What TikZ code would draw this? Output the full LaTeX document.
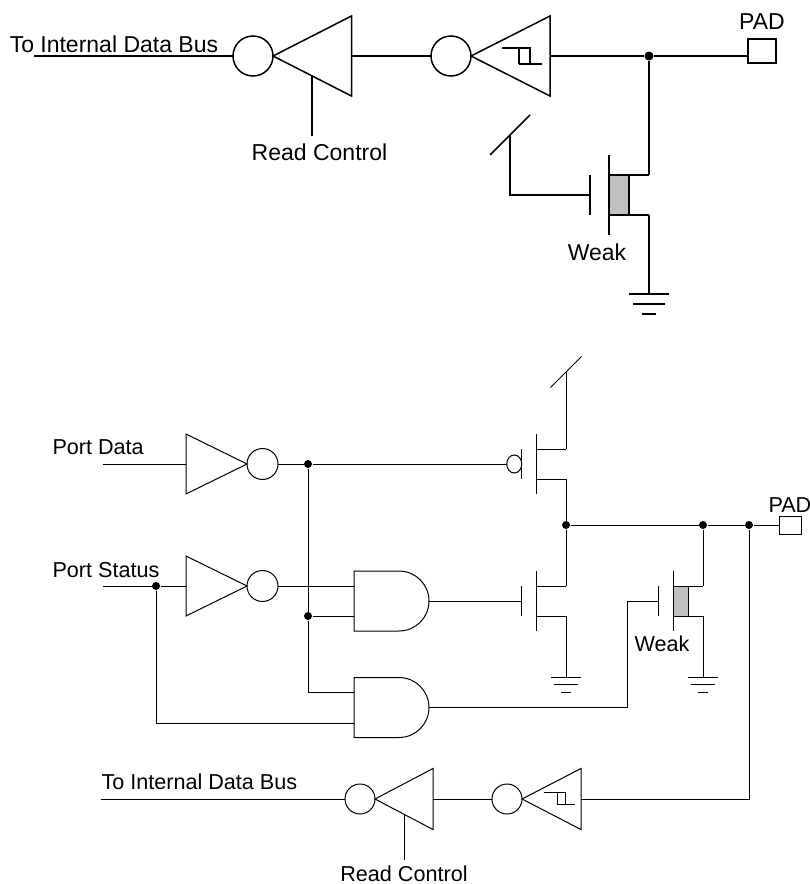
\documentclass[tikz,border=0pt]{standalone}
\usepackage{fontspec}
\setmainfont{Liberation Sans}
\usepackage{tikz}
\usetikzlibrary{positioning, shapes.geometric, shapes.gates.logic.US}

\definecolor{changray}{HTML}{C0C0C0}
\tikzset{
    buf/.style={draw, isosceles triangle, isosceles triangle stretches, inner sep=0, outer sep=0},
    bub/.style={draw, circle, inner sep=0, outer sep=0},
    dot/.style={circle, fill=black, inner sep=0, minimum size=8},
    pad/.style={draw, rectangle, inner sep=0, outer sep=0},
    chan/.style={draw, rectangle, fill=changray, inner sep=0, outer sep=0, anchor=west},
    andgate/.style={draw, and gate US, logic gate inputs=nn, logic gate input sep=20, inner sep=0, outer sep=0},
    txta/.style={inner sep=0, anchor=base, font=\fontsize{23}{24}\selectfont},
    txtb/.style={inner sep=0, anchor=base, font=\fontsize{21.6}{24}\selectfont},
    fet/.pic={
        \draw (0,-40) -- (0,40);
        \draw (-19,-20) -- (-19,20);
        \draw (0,-20) -- (40,-20) coordinate (-d);
        \draw (0,20) -- (40,20) coordinate (-s);
        \coordinate (-g) at (-19,0);
    },
    gnd/.pic={
        \draw (-20,0) -- (20,0);
        \draw (-16,10) -- (16,10);
        \draw (-7,20) -- (7,20);
    },
    hyst/.pic={
        \draw (-17,-8) -- (11,-8) -- (11,8);
        \draw (0,-8) -- (0,8);
        \draw (0,8) -- (23,8);
    }
}

\begin{document}
\begin{tikzpicture}[x=1pt, y=-1pt]
    \useasboundingbox (0,0) rectangle (810,884);

    % Upper circuit
    \begin{scope}[line width=1.5pt]
        % Nodes
        \node (triA) [buf, shape border rotate=180, minimum width=80, minimum height=78.5, anchor=apex] at (273,56) {};
        \node (bubA) [bub, minimum size=40, left=0pt of triA.apex] {};
        \node (triB) [buf, shape border rotate=180, minimum width=80, minimum height=79, anchor=apex] at (471,56) {};
        \node (bubB) [bub, minimum size=40, left=0pt of triB.apex] {};
        \node (padA) [pad, minimum width=28, minimum height=24] at (762,51) {};
        \node (dotA) [dot, minimum size=9] at (649,56) {};
        \node (chanA) [chan, minimum width=20, minimum height=40] at (609,195) {};
        \pic (qA) at (609,195) {fet};
        \pic at (519,56) {hyst};
        \pic (gA) at (649,294) {gnd};
        \coordinate (busA) at (34,56);
        \coordinate (rcTopA) at (312,76);
        \coordinate (rcA) at (312,136);
        \coordinate (vddA) at (510,135);
        \coordinate (gndA) at (649,294);
        \node [txta, anchor=base west] at (9,52) {To Internal Data Bus};
        \node [txta] at (319.5,160) {Read Control};
        \node [txta] at (597,260) {Weak};
        \node [txta] at (762,29) {PAD};

        % Wires
        \draw (busA) -- (bubA);
        \draw (rcTopA) -- (rcA);
        \draw (triA.lower side) -- (bubB);
        \draw (triB.lower side) -- (dotA) -- (dotA -| padA.west);
        \draw (dotA) -- (qA-d);
        \draw (qA-s) -- (gndA);
        \draw (qA-g) -- (qA-g -| vddA) -- (vddA);
        \draw (vddA) ++(-20,20) -- ++(40,-40);
    \end{scope}

    % Lower circuit
    \begin{scope}[line width=1pt]
        % Nodes
        \node (triC) [buf, minimum width=60, minimum height=61, anchor=apex] at (247,464) {};
        \node (bubC) [bub, minimum size=31, right=0pt of triC.apex] {};
        \node (triD) [buf, minimum width=60, minimum height=61, anchor=apex] at (247,586) {};
        \node (bubD) [bub, minimum size=31, right=0pt of triD.apex] {};
        \node (andA) [andgate, anchor=output] at (429,601) {};
        \node (andB) [andgate, anchor=output] at (429,707.5) {};
        \pic (qC) [scale=.75] at (536,464) {fet};
        \pic (qD) [scale=.75] at (536,601) {fet};
        \node (chanB) [chan, minimum width=15, minimum height=30] at (673,601) {};
        \pic (qE) [scale=.75] at (673,601) {fet};
        \node (pbub) [draw, ellipse, inner sep=0, outer sep=0, minimum width=15, minimum height=18, left=0pt of qC-g] {};
        \node (dotB) [dot] at (308,464) {};
        \node (dotC) [dot] at (308,616) {};
        \node (dotD) [dot] at (156,586) {};
        \node (dotE) [dot] at (566,525) {};
        \node (dotF) [dot] at (703,525) {};
        \node (dotG) [dot] at (749,525) {};
        \node (padB) [pad, minimum width=22, minimum height=18] at (790,525) {};
        \node (triE) [buf, shape border rotate=180, minimum width=61, minimum height=58, anchor=apex] at (375,799) {};
        \node (bubE) [bub, minimum size=30, left=0pt of triE.apex] {};
        \node (triF) [buf, shape border rotate=180, minimum width=61, minimum height=59, anchor=apex] at (522,799) {};
        \node (bubF) [bub, minimum size=30, left=0pt of triF.apex] {};
        \pic [scale=.78] at (557,798.5) {hyst};
        \pic [scale=.75] at (566,677) {gnd};
        \pic [scale=.75] at (703,677) {gnd};
        \coordinate (dataIn) at (103,464);
        \coordinate (statIn) at (103,586);
        \coordinate (busB) at (101,799);
        \coordinate (rcTopB) at (404,814);
        \coordinate (rcB) at (404,860);
        \coordinate (vddB) at (566,372);
        \coordinate (gndB) at (566,677);
        \coordinate (gndC) at (703,677);
        \coordinate (turn) at (627,707.5);
        \coordinate (inA) at (andB.west |- 0,692);
        \coordinate (inB) at (andB.west |- 0,723);
        \node [txtb, anchor=base west] at (52,454) {Port Data};
        \node [txtb, anchor=base west] at (52,577) {Port Status};
        \node [txtb, anchor=base west] at (101,789) {To Internal Data Bus};
        \node [txtb] at (404,881) {Read Control};
        \node [txtb] at (662,651) {Weak};
        \node [txtb, anchor=base west] at (768,512) {PAD};

        % Wires
        \draw (dataIn) -- (triC.lower side);
        \draw (statIn) -- (dotD) -- (triD.lower side);
        \draw (bubC) -- (dotB) -- (pbub);
        \draw (bubD) -- (bubD -| andA.west);
        \draw (dotB) -- (dotC);
        \draw (dotC) -- (dotC -| andA.west);
        \draw (dotC) |- (inA);
        \draw (dotD) |- (inB);
        \draw (andA.output) -- (qD-g);
        \draw (andB.output) -- (turn) -- (turn |- qE-g) -- (qE-g);
        \draw (qC-d) -- (vddB);
        \draw (vddB) ++(-15.5,15.5) -- ++(31,-31);
        \draw (qC-s) -- (dotE);
        \draw (dotE) -- (qD-d);
        \draw (qD-s) -- (gndB);
        \draw (dotE) -- (dotF) -- (dotG) -- (padB);
        \draw (dotF) -- (qE-d);
        \draw (qE-s) -- (gndC);
        \draw (dotG) |- (triF.lower side);
        \draw (bubF) -- (triE.lower side);
        \draw (bubE) -- (busB);
        \draw (rcTopB) -- (rcB);
    \end{scope}
\end{tikzpicture}
\end{document}
